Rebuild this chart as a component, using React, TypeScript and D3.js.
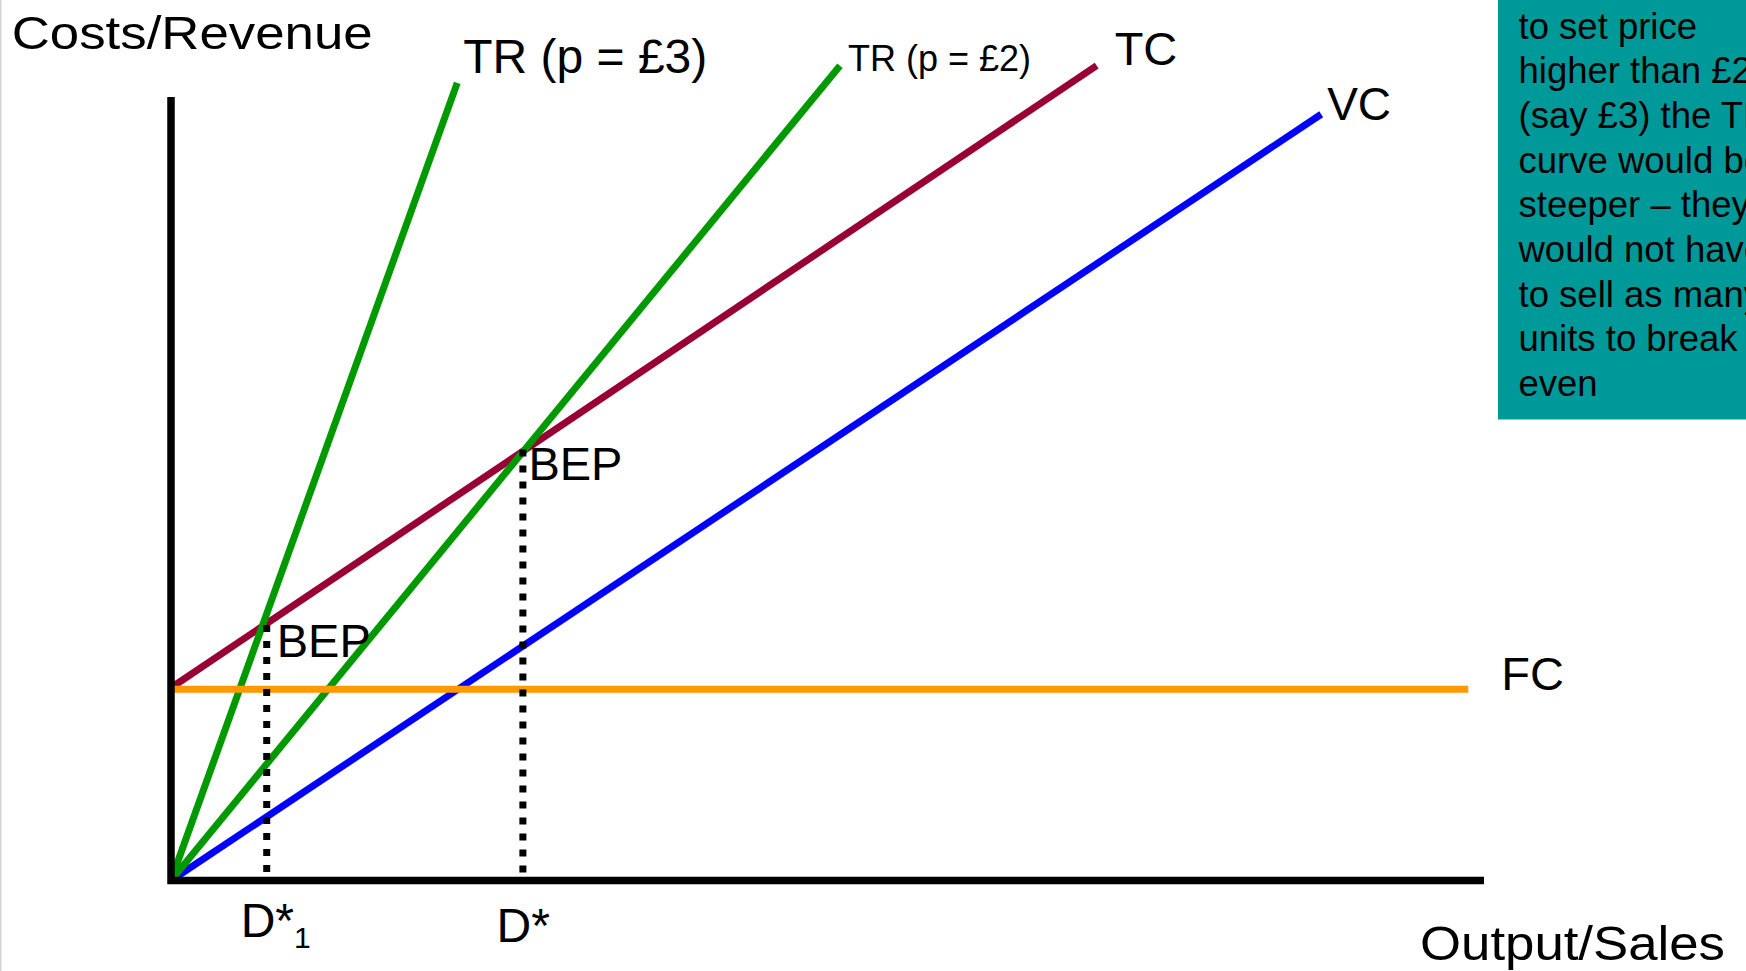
import React from "react";
import * as d3 from "d3";

const W = 1746;
const H = 971;

// Output (q) and cost/revenue (c) in arbitrary chart units (0–100 on each axis)
const fixedCost = [
  { q: 0, c: 24.4 },
  { q: 98.8, c: 24.4 },
];
const variableCost = [
  { q: 0, c: 0 },
  { q: 87.6, c: 97.8 },
];
const totalCost = [
  { q: 0, c: 24.6 },
  { q: 70.5, c: 104.0 },
];
const revenueP3 = [
  { q: 0, c: 0 },
  { q: 21.8, c: 101.8 },
];
const revenueP2 = [
  { q: 0, c: 0 },
  { q: 50.95, c: 104.0 },
];
const breakEvens = [
  { q: 7.29, c: 32.6, label: "BEP", tick: "D*", sub: "1" },
  { q: 26.8, c: 55.0, label: "BEP", tick: "D*", sub: "" },
];
const noteLines = [
  "to set price",
  "higher than £2",
  "(say £3) the TR",
  "curve would be",
  "steeper – they",
  "would not have",
  "to sell as many",
  "units to break",
  "even",
];

const FONT = "'Liberation Sans', Arial, Helvetica, sans-serif";

export default function App() {
  const x = d3.scaleLinear().domain([0, 100]).range([171, 1484]);
  const y = d3.scaleLinear().domain([0, 100]).range([880.5, 97]);
  const line = d3
    .line<{ q: number; c: number }>()
    .x((d) => x(d.q))
    .y((d) => y(d.c));

  const series = [
    { data: totalCost, color: "#990033" },
    { data: variableCost, color: "#0000FF" },
    { data: revenueP2, color: "#009900" },
    { data: revenueP3, color: "#009900" },
    { data: fixedCost, color: "#FF9900" },
  ];

  const tcEnd = totalCost[totalCost.length - 1];
  const vcEnd = variableCost[variableCost.length - 1];
  const fcEnd = fixedCost[fixedCost.length - 1];
  const tr3End = revenueP3[revenueP3.length - 1];
  const tr2End = revenueP2[revenueP2.length - 1];

  return (
    <div style={{ position: "fixed", left: 0, top: 0, width: W, height: H, background: "#fff" }}>
      <svg width={W} height={H} style={{ display: "block", fontFamily: FONT }}>
        <rect x={0} y={0} width={W} height={H} fill="#ffffff" />
        <line x1={0.75} y1={0} x2={0.75} y2={H} stroke="#d4d4d4" strokeWidth={1.5} />

        {/* teal note box */}
        <rect x={1498} y={0} width={W - 1498} height={419.5} fill="#009999" />
        <g fontSize={36.5} fill="#000">
          {noteLines.map((t, i) => (
            <text key={i} x={1518.5} y={38.5 + i * 44.7}>
              {t}
            </text>
          ))}
        </g>

        {/* curves */}
        {series.map((s, i) => (
          <path key={i} d={line(s.data) || ""} fill="none" stroke={s.color} strokeWidth={7} />
        ))}

        {/* break-even droplines */}
        {breakEvens.map((b, i) => (
          <path
            key={i}
            d={line([
              { q: b.q, c: b.c },
              { q: b.q, c: 0 },
            ]) || ""}
            fill="none"
            stroke="#000"
            strokeWidth={7}
            strokeDasharray="7 9"
          />
        ))}

        {/* axes */}
        <path
          d={`M${x(0)},${y(100)} L${x(0)},${y(0)} L${x(100)},${y(0)}`}
          fill="none"
          stroke="#000"
          strokeWidth={7.5}
          strokeLinejoin="miter"
        />

        {/* labels */}
        <text x={11.7} y={49} fontSize={47} textLength={361} lengthAdjust="spacingAndGlyphs">
          Costs/Revenue
        </text>
        <text x={1420} y={960} fontSize={49} textLength={305} lengthAdjust="spacingAndGlyphs">
          Output/Sales
        </text>
        <text x={x(tr3End.q) + 6} y={y(tr3End.c) - 9.5} fontSize={48}>
          TR (p = £3)
        </text>
        <text x={x(tr2End.q) + 8} y={y(tr2End.c) + 5.7} fontSize={36}>
          TR (p = £2)
        </text>
        <text x={x(tcEnd.q) + 18} y={y(tcEnd.c) - 0.3} fontSize={47}>
          TC
        </text>
        <text x={x(vcEnd.q) + 6} y={y(vcEnd.c) + 6} fontSize={46}>
          VC
        </text>
        <text x={x(fcEnd.q) + 33} y={y(fcEnd.c) + 1} fontSize={47}>
          FC
        </text>

        {breakEvens.map((b, i) => (
          <g key={i}>
            <text x={x(b.q) + (i === 0 ? 10 : 5.5)} y={y(b.c) + (i === 0 ? 31.5 : 30)} fontSize={47}>
              {b.label}
            </text>
            <text
              x={x(b.q) - (i === 0 ? 26 : 26.3)}
              y={y(0) + (i === 0 ? 56.2 : 61.2)}
              fontSize={48}
            >
              {b.tick}
              {b.sub ? (
                <tspan fontSize={30} dy={11.5}>
                  {b.sub}
                </tspan>
              ) : null}
            </text>
          </g>
        ))}
      </svg>
    </div>
  );
}
